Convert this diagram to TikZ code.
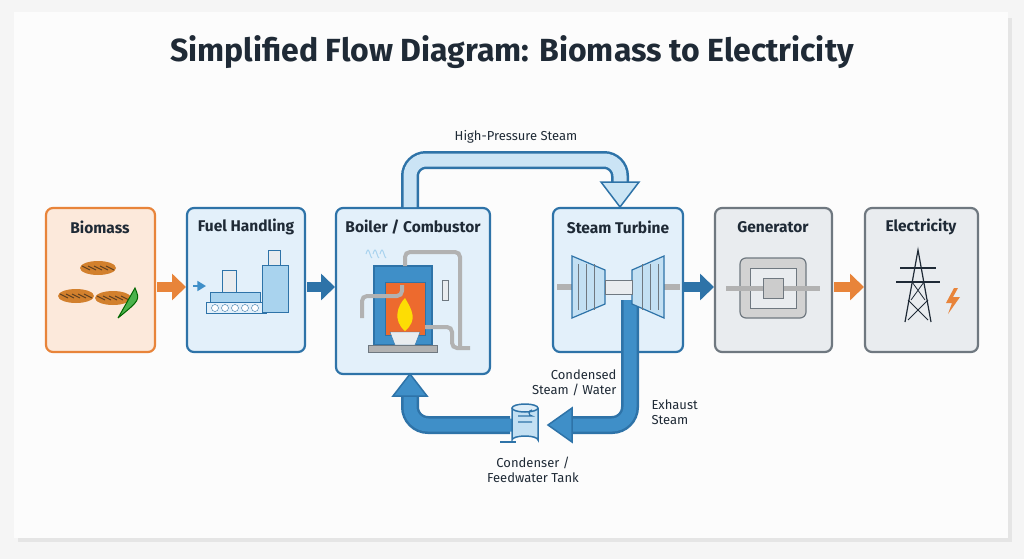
\documentclass[tikz,border=0pt]{standalone}
\usepackage{fontspec}
\setmainfont{Fira Sans}
\usetikzlibrary{arrows.meta,shapes.geometric}
\definecolor{bd}{HTML}{2E73A8}
\definecolor{bf}{HTML}{E3F0FA}
\definecolor{lb}{HTML}{A9D3EE}
\definecolor{db}{HTML}{3F8FC8}
\definecolor{ob}{HTML}{E8843A}
\definecolor{of}{HTML}{FCE9DB}
\definecolor{gb}{HTML}{6F7880}
\definecolor{gf}{HTML}{E9ECEF}
\definecolor{tx}{HTML}{1F2A36}
\begin{document}
\begin{tikzpicture}[x=1pt,y=-1pt,
 box/.style={draw=bd,fill=bf,line width=2.2pt,rounded corners=7pt},
 ttl/.style={font=\bfseries\fontsize{15.5}{18}\selectfont,text=tx},
 lbl/.style={font=\fontsize{13}{15}\selectfont,text=tx,align=center},
 fat/.style={-{Triangle[length=14pt,width=26pt]},line width=10pt}]
\useasboundingbox (0,0) rectangle (1024,559);
\fill[gray!8] (0,0) rectangle (1024,559);
\fill[gray!20] (18,18) rectangle (1012,542);
\fill[white!98!gray] (14,12) rectangle (1008,538);
\node[font=\bfseries\fontsize{32}{36}\selectfont,text=tx] (title) at (512,52) {Simplified Flow Diagram: Biomass to Electricity};
% boxes
\draw[ob,fill=of,line width=2.2pt,rounded corners=7pt] (46,208) rectangle (155,352);
\draw[box] (187,208) rectangle (305,352);
\draw[box] (336,208) rectangle (490,374);
\draw[box] (553,208) rectangle (683,352);
\draw[gb,fill=gf,line width=2.2pt,rounded corners=7pt] (715,208) rectangle (832,352);
\draw[gb,fill=gf,line width=2.2pt,rounded corners=7pt] (865,208) rectangle (978,352);
\node[ttl] (b1) at (100,227) {Biomass};
\node[ttl] (b2) at (246,227) {Fuel Handling};
\node[ttl] (b3) at (413,227) {Boiler / Combustor};
\node[ttl] (b4) at (618,227) {Steam Turbine};
\node[ttl] (b5) at (773,227) {Generator};
\node[ttl] (b6) at (921,227) {Electricity};
% horizontal arrows
\draw[fat,ob] (157,287) -- (186,287);
\draw[fat,bd] (307,287) -- (335,287);
\draw[fat,bd] (684,287) -- (714,287);
\draw[fat,ob] (834,287) -- (864,287);
% high pressure steam pipe
\draw[bd,line width=18pt,rounded corners=16pt] (410,208) -- (410,160) -- (620,160) -- (620,182);
\draw[lb!60,line width=13pt,rounded corners=16pt] (410,207) -- (410,160) -- (620,160) -- (620,184);
\draw[bd,fill=lb!60,line width=1.5pt] (601,182) -- (639,182) -- (620,207) -- cycle;
\node[lbl] (hp) at (516,137) {High-Pressure Steam};
% return loop
\draw[bd,line width=18pt,rounded corners=18pt] (630,300) -- (630,425) -- (570,425);
\draw[db,line width=13pt,rounded corners=18pt] (630,300) -- (630,425) -- (568,425);
\draw[bd,fill=db,line width=1.5pt] (572,408) -- (572,442) -- (548,425) -- cycle;
\draw[bd,line width=18pt,rounded corners=18pt] (510,425) -- (410,425) -- (410,395);
\draw[db,line width=13pt,rounded corners=18pt] (512,425) -- (410,425) -- (410,393);
\draw[bd,fill=db,line width=1.5pt] (393,396) -- (427,396) -- (410,374) -- cycle;
% condenser
\draw[bd,fill=lb!70,line width=1.5pt] (512,408) -- (512,440) arc[start angle=180,end angle=360,x radius=13,y radius=4] -- (538,408);
\draw[bd,fill=lb!40,line width=1.5pt] (525,408) ellipse[x radius=13,y radius=4];
\draw[bd,line width=1.2pt] (518,416) -- (532,416) arc[start angle=-90,end angle=90,radius=-3] (518,422)--(532,422);
\draw[bd,line width=1.2pt] (500,442) -- (516,442);
\node[lbl,align=right,anchor=east] (cs) at (620,383) {Condensed\\Steam / Water};
\node[lbl,align=left,anchor=west] (ex) at (648,412) {Exhaust\\Steam};
\node[lbl] (cf) at (533,470) {Condenser /\\Feedwater Tank};
% biomass icon
\foreach \x/\y in {98/268,76/296,113/298}{
 \fill[brown!70!orange] (\x,\y) ellipse[x radius=18,y radius=7];
 \foreach \d in {-12,-6,0,6,12} \draw[brown!50!black,line width=1pt] (\x+\d-4,\y-2) -- (\x+\d+4,\y+2);}
\draw[green!40!black,fill=green!40!gray,line width=1pt] (118,318) -- (135,288) .. controls (140,300) .. (118,318);
% fuel handling icon
\draw[bd,fill=lb,line width=1pt] (210,292) rectangle (260,302);
\foreach \x in {215,225,235,245,255} \draw[bd,fill=white] (\x,308) circle (3.5);
\draw[bd,line width=1pt] (206,302) -- (266,302) -- (266,313) -- (206,313) -- cycle;
\draw[bd,fill=gf,line width=1pt] (222,270) rectangle (236,292);
\draw[bd,fill=lb,line width=1pt] (262,265) rectangle (288,312);
\draw[bd,fill=gf,line width=1pt] (268,250) rectangle (280,265);
\draw[db,-{Triangle},line width=2pt] (193,286) -- (206,286);
% boiler icon
\draw[bd,fill=db,line width=1.3pt] (374,266) rectangle (432,345);
\draw[bd,fill=ob!80!red,line width=1pt] (385,282) rectangle (425,335);
\fill[yellow!80!orange] (405,331) .. controls (392,320) and (398,305) .. (405,298) .. controls (412,310) and (418,320) .. (405,331);
\draw[bd,fill=gf] (390,332) -- (420,332) -- (415,345) -- (395,345) -- cycle;
\draw[gb,fill=gray!60] (368,345) rectangle (437,352);
\draw[gray!60,line width=4pt,rounded corners=5pt] (362,318) -- (362,296) -- (402,296) -- (402,285);
\draw[gray!60,line width=4pt,rounded corners=5pt] (425,327) -- (452,327) -- (452,348) -- (470,348);
\draw[gray!60,line width=4pt,rounded corners=5pt] (405,266) -- (405,252) -- (460,252) -- (460,348);
\draw[gb,fill=gf] (442,280) rectangle (448,300);
\draw[lb,line width=1pt] (366,254) sin (368,250) cos (370,254) sin (372,258);
\draw[lb,line width=1pt] (373,254) sin (375,250) cos (377,254) sin (379,258);
\draw[lb,line width=1pt] (380,254) sin (382,250) cos (384,254) sin (386,258);
% turbine icon
\draw[gray!60,line width=6pt] (557,287) -- (680,287);
\draw[bd,fill=lb!70,line width=1.2pt] (572,256) -- (605,270) -- (605,304) -- (572,318) -- cycle;
\draw[bd,fill=lb!70,line width=1.2pt] (664,256) -- (632,270) -- (632,304) -- (664,318) -- cycle;
\foreach \x in {578,586,594} \draw[gb,line width=1pt] (\x,264) -- (\x,310);
\foreach \x in {642,650,658} \draw[gb,line width=1pt] (\x,264) -- (\x,310);
\draw[gb,fill=gf] (605,280) rectangle (632,294);
% generator icon
\draw[gb,fill=gray!35,line width=1.2pt,rounded corners=6pt] (740,258) rectangle (806,318);
\draw[gb,fill=gf,line width=1pt] (750,268) rectangle (796,308);
\draw[gray!60,line width=5pt] (726,288) -- (820,288);
\draw[gb,fill=gray!40] (763,278) rectangle (783,298);
% electricity icon
\draw[tx,line width=1.2pt] (905,322) -- (918,250) -- (931,322);
\draw[tx,line width=1.2pt] (900,268) -- (936,268) (896,282) -- (940,282);
\draw[tx,line width=0.8pt] (908,300) -- (928,320) (928,300) -- (908,320) (912,282) -- (925,300) (924,282) -- (911,300);
\fill[ob] (954,288) -- (946,303) -- (952,303) -- (948,314) -- (960,297) -- (953,297) -- (958,288) -- cycle;
\end{tikzpicture}
\end{document}
